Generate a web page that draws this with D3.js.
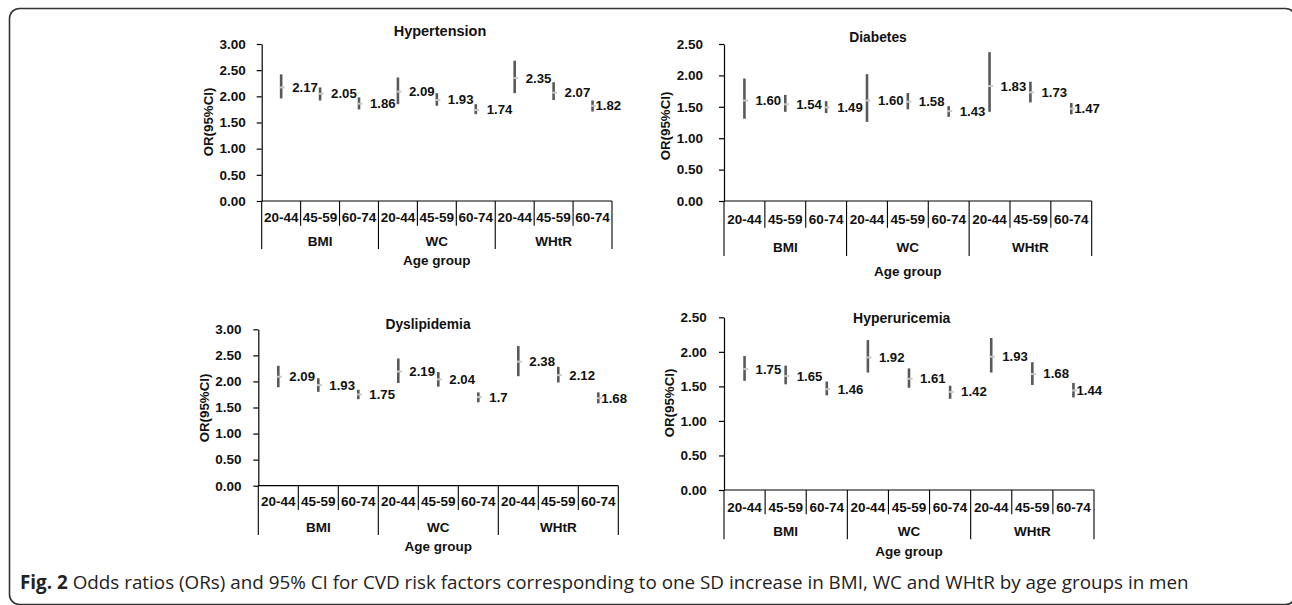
<!DOCTYPE html>
<html>
<head>
<meta charset="utf-8">
<script src="https://cdn.jsdelivr.net/npm/d3@7"></script>
<style>
  html, body { margin: 0; padding: 0; background: #fff; }
  svg { display: block; }
  text { font-family: "Liberation Sans", Arial, sans-serif; }
</style>
</head>
<body>
<svg id="chart" width="1292" height="605"></svg>
<script>
// ---------------- DATA ----------------
const indices = ["BMI", "WC", "WHtR"];
const ageGroups = ["20-44", "45-59", "60-74"];

const ticksTo300 = [0, 0.5, 1.0, 1.5, 2.0, 2.5, 3.0];
const ticksTo250 = [0, 0.5, 1.0, 1.5, 2.0, 2.5];

// Hypertension
const hypertensionOR    = [2.17, 2.05, 1.86, 2.09, 1.93, 1.74, 2.35, 2.07, 1.82];
const hypertensionLow   = [1.96, 1.92, 1.75, 1.85, 1.82, 1.66, 2.06, 1.93, 1.71];
const hypertensionHigh  = [2.42, 2.17, 1.98, 2.36, 2.06, 1.85, 2.68, 2.27, 1.92];
const hypertensionLabels = ["2.17", "2.05", "1.86", "2.09", "1.93", "1.74", "2.35", "2.07", "1.82"];

// Diabetes
const diabetesOR    = [1.60, 1.54, 1.49, 1.60, 1.58, 1.43, 1.83, 1.73, 1.47];
const diabetesLow   = [1.31, 1.42, 1.40, 1.26, 1.46, 1.34, 1.42, 1.57, 1.38];
const diabetesHigh  = [1.95, 1.69, 1.59, 2.02, 1.72, 1.51, 2.37, 1.90, 1.56];
const diabetesLabels = ["1.60", "1.54", "1.49", "1.60", "1.58", "1.43", "1.83", "1.73", "1.47"];

// Dyslipidemia
const dyslipidemiaOR    = [2.09, 1.93, 1.75, 2.19, 2.04, 1.70, 2.38, 2.12, 1.68];
const dyslipidemiaLow   = [1.89, 1.80, 1.66, 1.97, 1.90, 1.60, 2.10, 1.98, 1.58];
const dyslipidemiaHigh  = [2.30, 2.06, 1.84, 2.44, 2.18, 1.79, 2.68, 2.28, 1.79];
const dyslipidemiaLabels = ["2.09", "1.93", "1.75", "2.19", "2.04", "1.7", "2.38", "2.12", "1.68"];

// Hyperuricemia
const hyperuricemiaOR    = [1.75, 1.65, 1.46, 1.92, 1.61, 1.42, 1.93, 1.68, 1.44];
const hyperuricemiaLow   = [1.58, 1.53, 1.37, 1.70, 1.48, 1.32, 1.70, 1.52, 1.34];
const hyperuricemiaHigh  = [1.94, 1.80, 1.57, 2.17, 1.76, 1.51, 2.20, 1.85, 1.55];
const hyperuricemiaLabels = ["1.75", "1.65", "1.46", "1.92", "1.61", "1.42", "1.93", "1.68", "1.44"];

const captionBold = "Fig. 2";
const captionText = " Odds ratios (ORs) and 95% CI for CVD risk factors corresponding to one SD increase in BMI, WC and WHtR by age groups in men";

// ---------------- LAYOUT ----------------
const panels = [
  { title: "Hypertension", titleSize: 14.5, or: hypertensionOR, lo: hypertensionLow, hi: hypertensionHigh, labels: hypertensionLabels, ticks: ticksTo300,
    ax: 261.7, xEnd: 612, y0: 201, yTop: 44, tickGap: 16, catY: 217, subB: 225.7, grpB: 249, grpY: 241, ageY: 260, tX: 440, tY: 31, yTX: 208, yTY: 122 },
  { title: "Diabetes", titleSize: 13.8, or: diabetesOR, lo: diabetesLow, hi: diabetesHigh, labels: diabetesLabels, ticks: ticksTo250,
    ax: 724, xEnd: 1091.7, y0: 201, yTop: 44, tickGap: 21, catY: 219, subB: 227.7, grpB: 256, grpY: 247, ageY: 271, tX: 878, tY: 37.3, yTX: 665, yTY: 126 },
  { title: "Dyslipidemia", titleSize: 13.8, or: dyslipidemiaOR, lo: dyslipidemiaLow, hi: dyslipidemiaHigh, labels: dyslipidemiaLabels, ticks: ticksTo300,
    ax: 258.3, xEnd: 618.3, y0: 485.7, yTop: 329.3, tickGap: 16.7, catY: 501, subB: 510, grpB: 535, grpY: 527, ageY: 546, tX: 428, tY: 324.3, yTX: 204, yTY: 408 },
  { title: "Hyperuricemia", titleSize: 14, or: hyperuricemiaOR, lo: hyperuricemiaLow, hi: hyperuricemiaHigh, labels: hyperuricemiaLabels, ticks: ticksTo250,
    ax: 724, xEnd: 1094, y0: 490, yTop: 317.3, tickGap: 17.3, catY: 507, subB: 514.3, grpB: 539.3, grpY: 531, ageY: 551, tX: 901.7, tY: 318.3, yTX: 669.3, yTY: 403 }
];

const svg = d3.select("#chart");

// outer rounded frame
svg.append("rect")
  .attr("x", 9.5).attr("y", 8.5)
  .attr("width", 1286).attr("height", 596)
  .attr("rx", 10).attr("ry", 10)
  .attr("fill", "none").attr("stroke", "#333").attr("stroke-width", 1.6);

const categories = [];
indices.forEach(g => ageGroups.forEach(a => categories.push(g + "|" + a)));

panels.forEach(p => {
  const g = svg.append("g");
  const x = d3.scaleBand().domain(categories).range([p.ax, p.xEnd]).padding(0);
  const yMax = p.ticks[p.ticks.length - 1];
  const y = d3.scaleLinear().domain([0, yMax]).range([p.y0, p.yTop]);

  // Y axis
  const yAxis = d3.axisLeft(y).tickValues(p.ticks).tickSize(5).tickSizeOuter(0)
    .tickPadding(p.tickGap - 5).tickFormat(d3.format(".2f"));
  const ya = g.append("g").attr("transform", `translate(${p.ax},0)`).call(yAxis);
  ya.select(".domain").attr("stroke", "#000").attr("stroke-width", 1.2);
  ya.selectAll(".tick line").attr("stroke", "#000").attr("stroke-width", 1.2);
  ya.selectAll(".tick text").attr("fill", "#111")
    .style("font-family", '"Liberation Sans", Arial, sans-serif')
    .style("font-weight", "bold").style("font-size", "13.5px");

  // X axis baseline
  g.append("line").attr("x1", p.ax).attr("x2", p.xEnd).attr("y1", p.y0).attr("y2", p.y0)
    .attr("stroke", "#000").attr("stroke-width", 1.2);

  // category separators
  const bounds = categories.map((c, i) => ({ xPos: x(c), i }));
  bounds.push({ xPos: x(categories[categories.length - 1]) + x.bandwidth(), i: categories.length });
  g.selectAll(".sep").data(bounds).enter().append("line")
    .attr("x1", d => d.xPos).attr("x2", d => d.xPos)
    .attr("y1", p.y0)
    .attr("y2", d => (d.i % ageGroups.length === 0) ? p.grpB : p.subB)
    .attr("stroke", "#000").attr("stroke-width", 1.1);

  // category labels
  g.selectAll(".cat").data(categories).enter().append("text")
    .attr("x", d => x(d) + x.bandwidth() / 2).attr("y", p.catY)
    .attr("text-anchor", "middle").attr("dominant-baseline", "central")
    .attr("font-weight", "bold").attr("font-size", 13.5).attr("fill", "#111")
    .text(d => d.split("|")[1]);

  // group labels
  g.selectAll(".grp").data(indices).enter().append("text")
    .attr("x", (d, i) => (x(categories[i * 3]) + x(categories[i * 3 + 2]) + x.bandwidth()) / 2)
    .attr("y", p.grpY)
    .attr("text-anchor", "middle").attr("dominant-baseline", "central")
    .attr("font-weight", "bold").attr("font-size", 13.5).attr("fill", "#111")
    .text(d => d);

  // Age group title
  g.append("text").attr("x", (p.ax + p.xEnd) / 2).attr("y", p.ageY)
    .attr("text-anchor", "middle").attr("dominant-baseline", "central")
    .attr("font-weight", "bold").attr("font-size", 13.5).attr("fill", "#111")
    .text("Age group");

  // Y title
  g.append("text").attr("transform", `translate(${p.yTX},${p.yTY}) rotate(-90)`)
    .attr("text-anchor", "middle").attr("dominant-baseline", "central")
    .attr("font-weight", "bold").attr("font-size", 13.3).attr("fill", "#111")
    .text("OR(95%CI)");

  // panel title
  g.append("text").attr("x", p.tX).attr("y", p.tY)
    .attr("text-anchor", "middle").attr("dominant-baseline", "central")
    .attr("font-weight", "bold").attr("font-size", p.titleSize).attr("fill", "#111")
    .text(p.title);

  // error bars
  const pts = categories.map((c, i) => ({ c, i, or: p.or[i], lo: p.lo[i], hi: p.hi[i], label: p.labels[i] }));
  g.selectAll(".ci").data(pts).enter().append("line")
    .attr("x1", d => x(d.c) + x.bandwidth() / 2).attr("x2", d => x(d.c) + x.bandwidth() / 2)
    .attr("y1", d => y(d.lo)).attr("y2", d => y(d.hi))
    .attr("stroke", "#595959").attr("stroke-width", 2.6);

  // OR markers
  g.selectAll(".pt").data(pts).enter().append("rect")
    .attr("x", d => x(d.c) + x.bandwidth() / 2 - 1.5).attr("y", d => y(d.or) - 1)
    .attr("width", 5).attr("height", 2)
    .attr("fill", "#c8c8c8");

  // value labels
  g.selectAll(".val").data(pts).enter().append("text")
    .attr("x", d => x(d.c) + x.bandwidth() / 2 + (d.i === categories.length - 1 ? 3 : 11))
    .attr("y", d => y(d.or))
    .attr("dominant-baseline", "central")
    .attr("font-weight", "bold").attr("font-size", 13.2).attr("fill", "#111")
    .text(d => d.label);
});

// caption
const cap = svg.append("text").attr("x", 20).attr("y", 589)
  .style("font-family", '"Open Sans", "Noto Sans", sans-serif')
  .attr("font-size", 15.5).attr("fill", "#222");
cap.append("tspan").attr("font-weight", "bold").text(captionBold);
cap.append("tspan").text(captionText);
// fit caption width to the reference span
const w = cap.node().getComputedTextLength();
const target = 1170;
cap.attr("font-size", 15.5 * target / w);
</script>
</body>
</html>
